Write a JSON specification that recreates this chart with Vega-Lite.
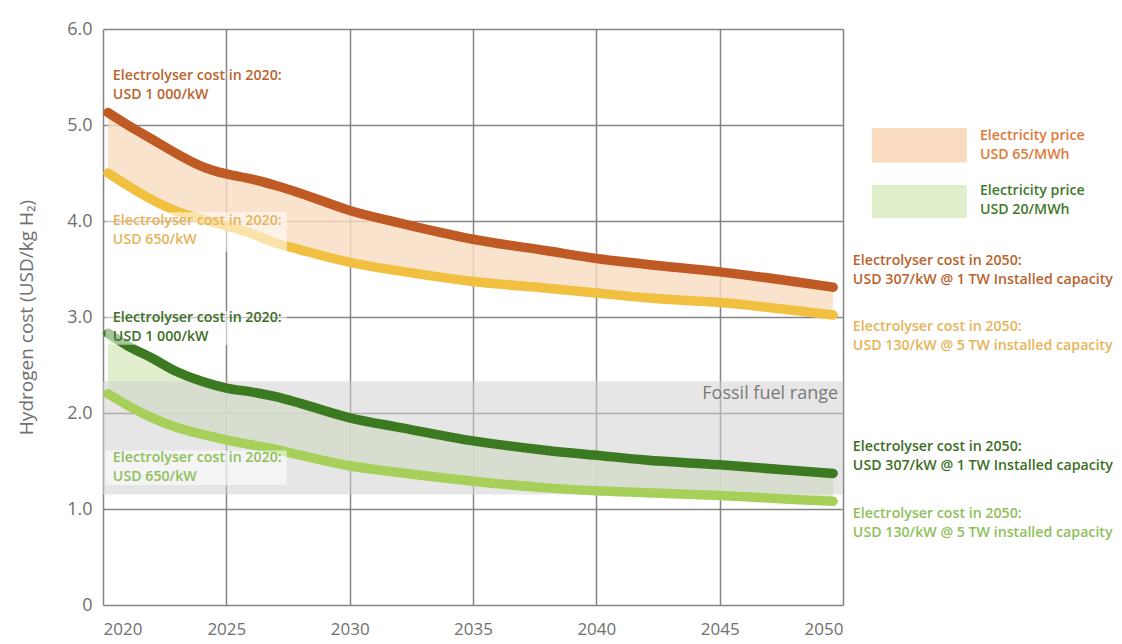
{
  "$schema": "https://vega.github.io/schema/vega-lite/v6.json",
  "width": 740,
  "height": 576,
  "autosize": {"type": "none"},
  "padding": {"left": 103, "top": 29, "right": 279, "bottom": 39},
  "background": "white",
  "config": {
    "view": {"stroke": null},
    "font": "Open Sans",
    "axis": {
      "grid": true,
      "gridColor": "#858585",
      "gridWidth": 1.5,
      "domain": false,
      "ticks": false,
      "labelColor": "#707070",
      "labelFont": "Open Sans",
      "titleFont": "Open Sans",
      "titleColor": "#707070",
      "titleFontWeight": "normal"
    }
  },
  "resolve": {"scale": {"fill": "independent", "color": "independent"}},
  "datasets": {
    "curves": [
      {"year": 2020.2, "series": "o1000", "cost": 5.13}, {"year": 2021, "series": "o1000", "cost": 5.0}, {"year": 2022, "series": "o1000", "cost": 4.85}, {"year": 2023, "series": "o1000", "cost": 4.7}, {"year": 2024, "series": "o1000", "cost": 4.57}, {"year": 2025, "series": "o1000", "cost": 4.49}, {"year": 2026, "series": "o1000", "cost": 4.44}, {"year": 2027, "series": "o1000", "cost": 4.37}, {"year": 2028, "series": "o1000", "cost": 4.29}, {"year": 2030, "series": "o1000", "cost": 4.11}, {"year": 2032, "series": "o1000", "cost": 3.98}, {"year": 2035, "series": "o1000", "cost": 3.81}, {"year": 2038, "series": "o1000", "cost": 3.69}, {"year": 2040, "series": "o1000", "cost": 3.61}, {"year": 2042, "series": "o1000", "cost": 3.55}, {"year": 2045, "series": "o1000", "cost": 3.47}, {"year": 2048, "series": "o1000", "cost": 3.37}, {"year": 2049.6, "series": "o1000", "cost": 3.31},
      {"year": 2020.2, "series": "o650", "cost": 4.5}, {"year": 2021, "series": "o650", "cost": 4.37}, {"year": 2022, "series": "o650", "cost": 4.22}, {"year": 2023, "series": "o650", "cost": 4.1}, {"year": 2024, "series": "o650", "cost": 4.02}, {"year": 2025, "series": "o650", "cost": 3.95}, {"year": 2026, "series": "o650", "cost": 3.87}, {"year": 2027, "series": "o650", "cost": 3.77}, {"year": 2028, "series": "o650", "cost": 3.7}, {"year": 2030, "series": "o650", "cost": 3.57}, {"year": 2032, "series": "o650", "cost": 3.48}, {"year": 2035, "series": "o650", "cost": 3.37}, {"year": 2038, "series": "o650", "cost": 3.3}, {"year": 2040, "series": "o650", "cost": 3.25}, {"year": 2042, "series": "o650", "cost": 3.2}, {"year": 2045, "series": "o650", "cost": 3.15}, {"year": 2048, "series": "o650", "cost": 3.07}, {"year": 2049.6, "series": "o650", "cost": 3.02},
      {"year": 2020.2, "series": "g1000", "cost": 2.83}, {"year": 2021, "series": "g1000", "cost": 2.7}, {"year": 2022, "series": "g1000", "cost": 2.57}, {"year": 2023, "series": "g1000", "cost": 2.43}, {"year": 2024, "series": "g1000", "cost": 2.33}, {"year": 2025, "series": "g1000", "cost": 2.26}, {"year": 2026, "series": "g1000", "cost": 2.22}, {"year": 2027, "series": "g1000", "cost": 2.17}, {"year": 2028, "series": "g1000", "cost": 2.1}, {"year": 2030, "series": "g1000", "cost": 1.95}, {"year": 2032, "series": "g1000", "cost": 1.85}, {"year": 2035, "series": "g1000", "cost": 1.71}, {"year": 2038, "series": "g1000", "cost": 1.61}, {"year": 2040, "series": "g1000", "cost": 1.56}, {"year": 2042, "series": "g1000", "cost": 1.51}, {"year": 2045, "series": "g1000", "cost": 1.46}, {"year": 2048, "series": "g1000", "cost": 1.4}, {"year": 2049.6, "series": "g1000", "cost": 1.37},
      {"year": 2020.2, "series": "g650", "cost": 2.2}, {"year": 2021, "series": "g650", "cost": 2.08}, {"year": 2022, "series": "g650", "cost": 1.95}, {"year": 2023, "series": "g650", "cost": 1.85}, {"year": 2024, "series": "g650", "cost": 1.78}, {"year": 2025, "series": "g650", "cost": 1.72}, {"year": 2026, "series": "g650", "cost": 1.67}, {"year": 2027, "series": "g650", "cost": 1.62}, {"year": 2028, "series": "g650", "cost": 1.56}, {"year": 2030, "series": "g650", "cost": 1.45}, {"year": 2032, "series": "g650", "cost": 1.38}, {"year": 2035, "series": "g650", "cost": 1.29}, {"year": 2038, "series": "g650", "cost": 1.22}, {"year": 2040, "series": "g650", "cost": 1.19}, {"year": 2042, "series": "g650", "cost": 1.17}, {"year": 2045, "series": "g650", "cost": 1.14}, {"year": 2048, "series": "g650", "cost": 1.1}, {"year": 2049.6, "series": "g650", "cost": 1.08}
    ],
    "notes": [
      {"x": 2020.4, "y": 5.58, "group": "o1000", "label": "Electrolyser cost in 2020:\nUSD 1 000/kW"},
      {"x": 2020.4, "y": 4.07, "group": "o650", "label": "Electrolyser cost in 2020:\nUSD 650/kW"},
      {"x": 2020.4, "y": 3.06, "group": "g1000", "label": "Electrolyser cost in 2020:\nUSD 1 000/kW"},
      {"x": 2020.4, "y": 1.6, "group": "g650", "label": "Electrolyser cost in 2020:\nUSD 650/kW"},
      {"x": 2050.4, "y": 3.66, "group": "o1000", "label": "Electrolyser cost in 2050:\nUSD 307/kW @ 1 TW Installed capacity"},
      {"x": 2050.4, "y": 2.97, "group": "o650", "label": "Electrolyser cost in 2050:\nUSD 130/kW @ 5 TW installed capacity"},
      {"x": 2050.4, "y": 1.72, "group": "g1000", "label": "Electrolyser cost in 2050:\nUSD 307/kW @ 1 TW Installed capacity"},
      {"x": 2050.4, "y": 1.02, "group": "g650", "label": "Electrolyser cost in 2050:\nUSD 130/kW @ 5 TW installed capacity"},
      {"x": 2055.55, "y": 4.96, "group": "leg65", "label": "Electricity price\nUSD 65/MWh"},
      {"x": 2055.55, "y": 4.385, "group": "leg20", "label": "Electricity price\nUSD 20/MWh"}
    ],
    "boxes": [
      {"x": 2020.1, "x2": 2027.45, "y": 4.09, "y2": 3.68},
      {"x": 2020.1, "x2": 2027.45, "y": 3.06, "y2": 2.71},
      {"x": 2020.1, "x2": 2027.45, "y": 1.61, "y2": 1.25}
    ],
    "legend": [
      {"x": 2051.17, "x2": 2055.02, "y": 4.97, "y2": 4.61, "band": "USD 65/MWh"},
      {"x": 2051.17, "x2": 2055.02, "y": 4.375, "y2": 4.03, "band": "USD 20/MWh"}
    ],
    "fossil": [
      {"x": 2020, "x2": 2050, "lo": 1.15, "hi": 2.33, "label": "Fossil fuel range", "lx": 2049.8, "ly": 2.2}
    ]
  },
  "layer": [
    {
      "data": {"name": "curves"},
      "transform": [{"pivot": "series", "value": "cost", "groupby": ["year"]}],
      "mark": {"type": "area", "color": "#f9dcbf", "opacity": 0.8},
      "encoding": {
        "x": {"field": "year", "type": "quantitative", "scale": {"domain": [2020, 2050], "nice": false, "zero": false},
          "axis": {"values": [2020, 2025, 2030, 2035, 2040, 2045, 2050], "format": "d", "title": null, "labelFontSize": 17, "labelPadding": 16}},
        "y": {"field": "o1000", "type": "quantitative", "scale": {"domain": [0, 6], "nice": false},
          "axis": {"values": [0, 1, 2, 3, 4, 5, 6], "labelExpr": "datum.value == 0 ? '0' : format(datum.value, '.1f')", "labelFontSize": 18, "labelPadding": 11,
            "title": "Hydrogen cost (USD/kg H₂)", "titleFontSize": 19, "titlePadding": 30}},
        "y2": {"field": "o650"}
      }
    },
    {
      "data": {"name": "curves"},
      "transform": [{"pivot": "series", "value": "cost", "groupby": ["year"]}],
      "mark": {"type": "area", "color": "#dcebc4", "opacity": 0.85},
      "encoding": {
        "x": {"field": "year", "type": "quantitative"},
        "y": {"field": "g1000", "type": "quantitative"},
        "y2": {"field": "g650"}
      }
    },
    {
      "data": {"name": "fossil"},
      "mark": {"type": "rect", "color": "#d2d2d2", "opacity": 0.55},
      "encoding": {
        "x": {"field": "x", "type": "quantitative"},
        "x2": {"field": "x2"},
        "y": {"field": "lo", "type": "quantitative"},
        "y2": {"field": "hi"}
      }
    },
    {
      "data": {"name": "fossil"},
      "mark": {"type": "text", "align": "right", "baseline": "middle", "fontSize": 18, "color": "#7a7a7a"},
      "encoding": {
        "x": {"field": "lx", "type": "quantitative"},
        "y": {"field": "ly", "type": "quantitative"},
        "text": {"field": "label"}
      }
    },
    {
      "data": {"name": "curves"},
      "mark": {"type": "line", "strokeWidth": 9.5, "strokeCap": "round", "strokeJoin": "round", "interpolate": "monotone"},
      "encoding": {
        "x": {"field": "year", "type": "quantitative"},
        "y": {"field": "cost", "type": "quantitative"},
        "detail": {"field": "series"},
        "color": {"field": "series", "type": "nominal", "legend": null,
          "scale": {"domain": ["o1000", "o650", "g1000", "g650"], "range": ["#c05a24", "#f2c040", "#3b7a20", "#a6d05a"]}}
      }
    },
    {
      "data": {"name": "boxes"},
      "mark": {"type": "rect", "color": "white", "opacity": 0.55},
      "encoding": {
        "x": {"field": "x", "type": "quantitative"},
        "x2": {"field": "x2"},
        "y": {"field": "y", "type": "quantitative"},
        "y2": {"field": "y2"}
      }
    },
    {
      "data": {"name": "legend"},
      "mark": {"type": "rect", "clip": false},
      "encoding": {
        "x": {"field": "x", "type": "quantitative"},
        "x2": {"field": "x2"},
        "y": {"field": "y", "type": "quantitative"},
        "y2": {"field": "y2"},
        "fill": {"field": "band", "type": "nominal", "legend": null,
          "scale": {"domain": ["USD 65/MWh", "USD 20/MWh"], "range": ["#f9dcbf", "#e0eecb"]}}
      }
    },
    {
      "data": {"name": "notes"},
      "mark": {"type": "text", "align": "left", "baseline": "top", "fontSize": 14.2, "fontWeight": 600, "lineBreak": "\n", "lineHeight": 19, "clip": false},
      "encoding": {
        "x": {"field": "x", "type": "quantitative"},
        "y": {"field": "y", "type": "quantitative"},
        "text": {"field": "label"},
        "color": {"field": "group", "type": "nominal", "legend": null,
          "scale": {"domain": ["o1000", "o650", "g1000", "g650", "leg65", "leg20"], "range": ["#b9642e", "#e6b45a", "#3d6e26", "#8fc05c", "#e07a38", "#3f7a2c"]}}
      }
    }
  ]
}
